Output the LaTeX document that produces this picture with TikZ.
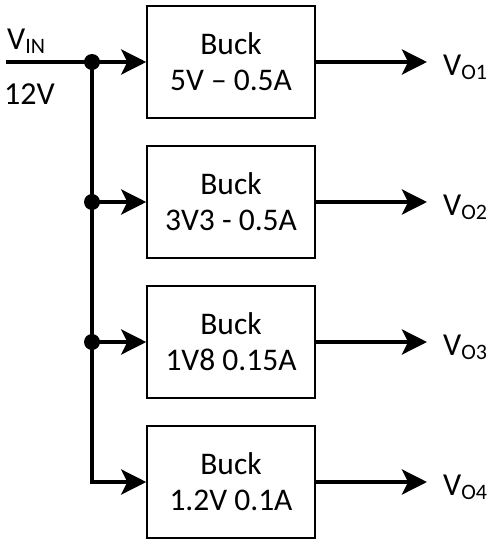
\documentclass[tikz,border=0pt]{standalone}
\usepackage{fontspec}
\setmainfont{Carlito}
\usetikzlibrary{arrows.meta}
\tikzstyle{buck} = [draw, line width=1.5pt, minimum width=168pt, minimum height=112pt, align=center, font=\fontsize{31.5}{36}\selectfont]
\tikzstyle{dot} = [circle, fill, inner sep=0pt, minimum size=16pt]
\tikzstyle{wire} = [line width=4pt]
\tikzstyle{arrow} = [wire, -{Stealth[length=25pt, width=25pt, inset=6pt]}]
\tikzstyle{lbl} = [inner sep=0pt, anchor=base west, font=\fontsize{32}{36}\selectfont]
\newcommand{\subtxt}[1]{\raisebox{-4pt}{\fontsize{22}{22}\selectfont #1}}

\begin{document}
\begin{tikzpicture}[x=1pt, y=-1pt]
	\useasboundingbox (0,0) rectangle (500,543);
	\coordinate (in) at (6,62);
	\node[lbl](vin) at (7,49){V\subtxt{IN}};
	\node[lbl](vin12) at (4,104){12V};
	\node[buck](b1) at (231,62){Buck\\5V -- 0.5A};
	\node[buck](b2) at (231,202){Buck\\3V3 - 0.5A};
	\node[buck](b3) at (231,342){Buck\\1V8 0.15A};
	\node[buck](b4) at (231,482){Buck\\1.2V 0.1A};
	\node[dot](j1) at (92,62){};
	\node[dot](j2) at (92,202){};
	\node[dot](j3) at (92,342){};
	\coordinate (o1) at (427,62);
	\coordinate (o2) at (427,202);
	\coordinate (o3) at (427,342);
	\coordinate (o4) at (427,482);
	\node[lbl](vo1) at (443,75){V\subtxt{O1}};
	\node[lbl](vo2) at (443,215){V\subtxt{O2}};
	\node[lbl](vo3) at (443,355){V\subtxt{O3}};
	\node[lbl](vo4) at (443,495){V\subtxt{O4}};
	\draw[wire](in) -- (j1.center);
	\draw[arrow](j1.center) -- (b1.west);
	\draw[arrow](j1.center) |- (b4.west);
	\draw[arrow](j2.center) -- (b2.west);
	\draw[arrow](j3.center) -- (b3.west);
	\draw[arrow](b1.east) -- (o1);
	\draw[arrow](b2.east) -- (o2);
	\draw[arrow](b3.east) -- (o3);
	\draw[arrow](b4.east) -- (o4);
\end{tikzpicture}
\end{document}
